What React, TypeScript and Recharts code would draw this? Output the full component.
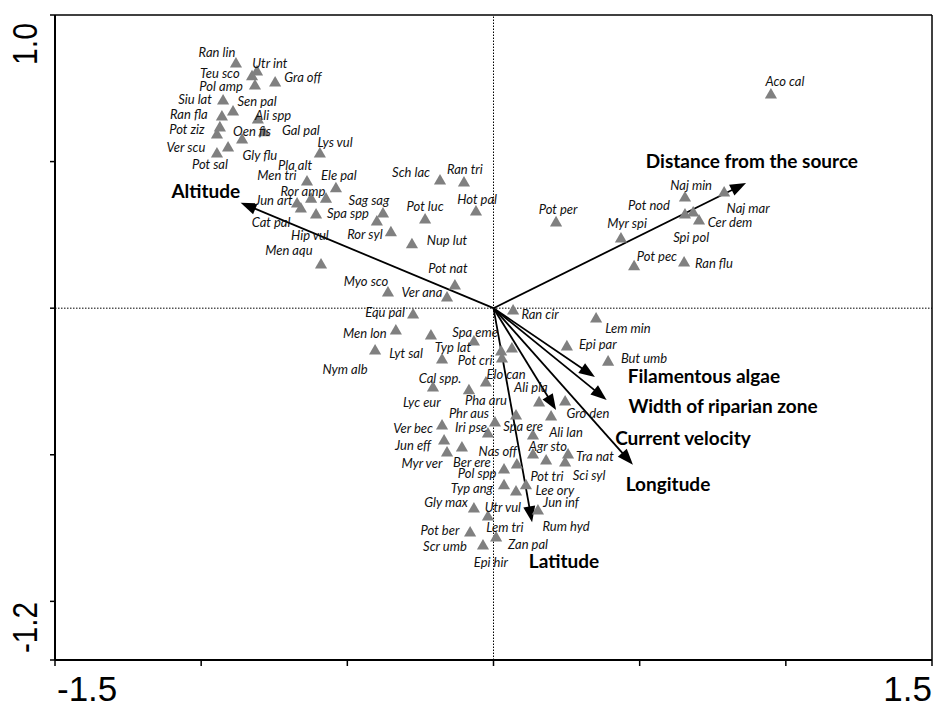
import React from 'react';
import { ScatterChart, Scatter, XAxis, YAxis, ReferenceLine } from 'recharts';

// axis ticks
const xTicks = [-1.5, -1, -0.5, 0, 0.5, 1, 1.5];
const yTicks = [-1.2, -1, -0.5, 0, 0.5, 1];
const xTickLabels = [-1.5, 1.5];
const yTickLabels = [-1.2, 1.0];

// species scores (triangles): [axis1, axis2]
const speciesScores: [number, number][] = [
  [-0.881, 0.833], [-0.809, 0.806], [-0.826, 0.789], [-0.816, 0.758], [-0.747, 0.768],
  [-0.925, 0.707], [-0.891, 0.669], [-0.929, 0.652], [-0.806, 0.642], [-0.936, 0.615],
  [-0.946, 0.591], [-0.86, 0.574], [-0.785, 0.598], [-0.908, 0.546], [-0.946, 0.526],
  [-0.594, 0.526], [-0.638, 0.43], [-0.539, 0.407], [-0.624, 0.372], [-0.573, 0.372],
  [-0.672, 0.355], [-0.659, 0.338], [-0.607, 0.318], [-0.378, 0.321], [-0.399, 0.294],
  [-0.59, 0.147], [-0.183, 0.434], [-0.101, 0.427], [-0.06, 0.328], [-0.234, 0.301],
  [-0.351, 0.257], [-0.279, 0.216], [-0.132, 0.076], [-0.361, 0.052], [-0.159, 0.035],
  [-0.275, -0.023], [-0.334, -0.078], [-0.214, -0.095], [-0.405, -0.146], [-0.067, -0.115],
  [-0.176, -0.177], [0.026, -0.149], [0.063, -0.139], [0.029, -0.173], [-0.207, -0.272],
  [-0.026, -0.255], [-0.084, -0.282], [-0.176, -0.402], [0.005, -0.392], [-0.019, -0.429],
  [-0.169, -0.453], [-0.159, -0.494], [-0.108, -0.477], [0.077, -0.368], [0.156, -0.323],
  [0.245, -0.32], [0.197, -0.371], [0.135, -0.436], [0.135, -0.501], [0.18, -0.521],
  [0.255, -0.501], [0.245, -0.528], [0.036, -0.552], [0.08, -0.535], [0.036, -0.606],
  [0.077, -0.627], [0.111, -0.606], [0.152, -0.692], [-0.067, -0.685], [-0.019, -0.712],
  [-0.08, -0.767], [-0.036, -0.811], [0.009, -0.784], [0.067, -0.01], [0.351, -0.037],
  [0.251, -0.132], [0.392, -0.184], [0.214, 0.291], [0.655, 0.376], [0.655, 0.318],
  [0.683, 0.325], [0.703, 0.297], [0.789, 0.393], [0.436, 0.236], [0.481, 0.141],
  [0.652, 0.154], [0.949, 0.727],
];

// species name labels: [name, axis1, axis2]
const speciesLabels: [string, number, number][] = [
  ['Ran lin', -0.946, 0.874], ['Utr int', -0.765, 0.836], ['Teu sco', -0.936, 0.802],
  ['Pol amp', -0.932, 0.758], ['Gra off', -0.652, 0.789], ['Siu lat', -1.021, 0.714],
  ['Sen pal', -0.809, 0.707], ['Ran fla', -1.042, 0.662], ['Ali spp', -0.754, 0.659],
  ['Pot ziz', -1.049, 0.611], ['Oen fis', -0.826, 0.604], ['Gal pal', -0.659, 0.608],
  ['Ver scu', -1.052, 0.55], ['Lys vul', -0.542, 0.567], ['Gly flu', -0.799, 0.523],
  ['Pot sal', -0.97, 0.492], ['Pla alt', -0.679, 0.488], ['Men tri', -0.741, 0.454],
  ['Ele pal', -0.529, 0.454], ['Ror amp', -0.652, 0.4], ['Jun art', -0.751, 0.369],
  ['Sag sag', -0.426, 0.369], ['Spa spp', -0.498, 0.325], ['Cat pal', -0.761, 0.294],
  ['Hip vul', -0.628, 0.25], ['Ror syl', -0.44, 0.253], ['Men aqu', -0.7, 0.199],
  ['Sch lac', -0.282, 0.465], ['Ran tri', -0.098, 0.475], ['Hot pal', -0.056, 0.372],
  ['Pot luc', -0.234, 0.349], ['Nup lut', -0.159, 0.233], ['Pot nat', -0.156, 0.137],
  ['Myo sco', -0.436, 0.093], ['Ver ana', -0.245, 0.055], ['Equ pal', -0.371, -0.013],
  ['Men lon', -0.44, -0.085], ['Lyt sal', -0.299, -0.153], ['Nym alb', -0.508, -0.207],
  ['Spa eme', -0.063, -0.081], ['Typ lat', -0.139, -0.132], ['Pot cri', -0.063, -0.177],
  ['Cal spp.', -0.183, -0.238], ['Elo can', 0.043, -0.224], ['Lyc eur', -0.245, -0.32],
  ['Pha aru', -0.026, -0.313], ['Phr aus', -0.084, -0.357], ['Ver bec', -0.275, -0.409],
  ['Iri pse', -0.077, -0.405], ['Spa ere', 0.101, -0.402], ['Ali pla', 0.128, -0.269],
  ['Gro den', 0.323, -0.357], ['Ali lan', 0.248, -0.422], ['Jun eff', -0.275, -0.467],
  ['Nas off', 0.015, -0.487], ['Agr sto', 0.186, -0.47], ['Myr ver', -0.245, -0.528],
  ['Ber ere', -0.074, -0.525], ['Tra nat', 0.347, -0.504], ['Pol spp', -0.056, -0.562],
  ['Pot tri', 0.183, -0.572], ['Sci syl', 0.327, -0.569], ['Typ ang', -0.074, -0.613],
  ['Lee ory', 0.21, -0.62], ['Jun inf', 0.231, -0.661], ['Gly max', -0.162, -0.661],
  ['Utr vul', 0.032, -0.678], ['Lem tri', 0.039, -0.746], ['Rum hyd', 0.248, -0.743],
  ['Pot ber', -0.183, -0.757], ['Zan pal', 0.118, -0.804], ['Scr umb', -0.166, -0.811],
  ['Epi hir', -0.009, -0.866], ['Ran cir', 0.159, -0.02], ['Lem min', 0.46, -0.068],
  ['Epi par', 0.357, -0.122], ['But umb', 0.515, -0.17], ['Pot per', 0.221, 0.338],
  ['Naj min', 0.676, 0.42], ['Pot nod', 0.532, 0.352], ['Myr spi', 0.457, 0.291],
  ['Naj mar', 0.871, 0.342], ['Cer dem', 0.809, 0.294], ['Spi pol', 0.676, 0.243],
  ['Pot pec', 0.559, 0.178], ['Ran flu', 0.754, 0.154], ['Aco cal', 0.997, 0.775],
];

// environmental variables: [name, arrow tip axis1, arrow tip axis2]
const envArrows: [string, number, number][] = [
  ['Altitude', -0.865, 0.36],
  ['Distance from the source', 0.864, 0.427],
  ['Filamentous algae', 0.347, -0.235],
  ['Width of riparian zone', 0.387, -0.313],
  ['Current velocity', 0.214, -0.347],
  ['Longitude', 0.477, -0.534],
  ['Latitude', 0.132, -0.73],
];
// environmental label positions: [name, axis1, axis2]
const envLabels: [string, number, number][] = [
  ['Altitude', -0.984, 0.403],
  ['Distance from the source', 0.884, 0.505],
  ['Filamentous algae', 0.72, -0.228],
  ['Width of riparian zone', 0.785, -0.331],
  ['Current velocity', 0.648, -0.44],
  ['Longitude', 0.597, -0.597],
  ['Latitude', 0.241, -0.859],
];

const pointData = speciesScores.map(([x, y]) => ({ x, y }));
const labelData = speciesLabels.map(([name, x, y]) => ({ name, x, y }));
const envLabelData = envLabels.map(([name, x, y]) => ({ name, x, y }));

const AXIS_FONT = 'Liberation Sans, Arial, sans-serif';

const XTick = (props: any) => {
  const { x, y, payload } = props;
  const v = payload.value;
  if (!xTickLabels.includes(v)) return null;
  return (
    <text x={v < 0 ? x + 2 : x} y={y + 33} textAnchor={v < 0 ? 'start' : 'end'}
      fontSize={35} fontFamily={AXIS_FONT} fill="#000">{v.toFixed(1)}</text>
  );
};

const YTick = (props: any) => {
  const { x, y, payload } = props;
  const v = payload.value;
  if (!yTickLabels.includes(v)) return null;
  const bx = x - 11;
  const top = v > 0;
  const ay = top ? y + 8 : y - 7;
  return (
    <text x={bx} y={ay} transform={`rotate(-90, ${bx}, ${ay})`}
      textAnchor={top ? 'end' : 'start'} fontSize={35} fontFamily={AXIS_FONT} fill="#000"
      textLength={top ? 42 : 51} lengthAdjust="spacingAndGlyphs">{v.toFixed(1)}</text>
  );
};

const ArrowShape = (props: any) => {
  const { x1, y1, x2, y2 } = props;
  if ([x1, y1, x2, y2].some((v) => typeof v !== 'number' || isNaN(v))) return null;
  const dx = x2 - x1;
  const dy = y2 - y1;
  const len = Math.hypot(dx, dy) || 1;
  const ux = dx / len;
  const uy = dy / len;
  const hl = 16;
  const hw = 6;
  const bx = x2 - ux * hl;
  const by = y2 - uy * hl;
  return (
    <g>
      <line x1={x1} y1={y1} x2={bx + ux * 2} y2={by + uy * 2} stroke="#000" strokeWidth={1.8} />
      <polygon points={`${x2},${y2} ${bx - uy * hw},${by + ux * hw} ${bx + uy * hw},${by - ux * hw}`} fill="#000" />
    </g>
  );
};

const SpeciesLabel = (props: any) => {
  const { cx, cy, payload } = props;
  return (
    <text x={cx} y={cy} textAnchor="middle" dominantBaseline="central" fontSize={13}
      fontStyle="italic" fontFamily="Lato, Carlito, sans-serif" fill="#111">{payload.name}</text>
  );
};

const EnvLabel = (props: any) => {
  const { cx, cy, payload } = props;
  return (
    <text x={cx} y={cy} textAnchor="middle" dominantBaseline="central" fontSize={19}
      fontWeight="bold" fontFamily="Lato, Carlito, sans-serif" fill="#000">{payload.name}</text>
  );
};

export default function App() {
  return (
    <div style={{ position: 'absolute', left: 0, top: 0 }}>
      <ScatterChart width={933} height={704} margin={{ top: 15, right: 1, bottom: 0, left: 0 }}>
        <XAxis type="number" dataKey="x" domain={[-1.5, 1.5]} ticks={xTicks} interval={0}
          height={44} axisLine={{ stroke: '#000', strokeWidth: 2 }}
          tickLine={{ stroke: '#000', strokeWidth: 1.5 }} tickSize={6} tick={<XTick />}
          allowDataOverflow />
        <YAxis type="number" dataKey="y" domain={[-1.2, 1.0]} ticks={yTicks} interval={0}
          width={55} axisLine={{ stroke: '#000', strokeWidth: 2 }}
          tickLine={{ stroke: '#000', strokeWidth: 1.5 }} tickSize={5} tick={<YTick />}
          allowDataOverflow />
        <ReferenceLine y={1.0} stroke="#000" strokeWidth={1.5} />
        <ReferenceLine x={1.5} stroke="#000" strokeWidth={1.5} />
        <ReferenceLine x={0} stroke="#000" strokeWidth={1} strokeDasharray="1.5 1.5" />
        <ReferenceLine y={0} stroke="#000" strokeWidth={1} strokeDasharray="1.5 1.5" />
        {envArrows.map(([name, x, y]) => (
          <ReferenceLine key={name} segment={[{ x: 0, y: 0 }, { x, y }]} shape={(p: any) => <ArrowShape {...p} />} />
        ))}
        <Scatter data={pointData} fill="#808080" shape="triangle" legendType="none" isAnimationActive={false} />
        <Scatter data={labelData} shape={(p: any) => <SpeciesLabel {...p} />} isAnimationActive={false} />
        <Scatter data={envLabelData} shape={(p: any) => <EnvLabel {...p} />} isAnimationActive={false} />
      </ScatterChart>
    </div>
  );
}
